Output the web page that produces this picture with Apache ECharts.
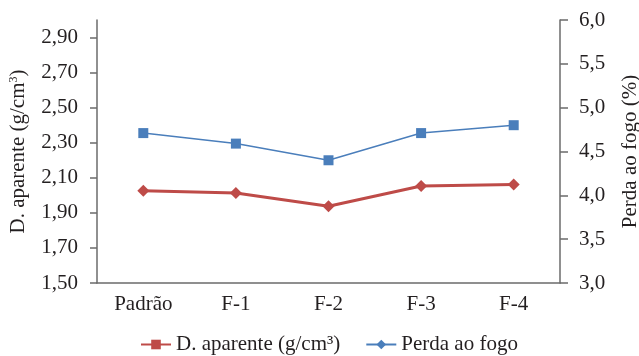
<!DOCTYPE html>
<html>
<head>
<meta charset="utf-8">
<script src="https://cdn.jsdelivr.net/npm/echarts@6/dist/echarts.min.js"></script>
<style>
html,body{margin:0;padding:0;background:#fff;}
#chart{width:639px;height:356px;}
</style>
</head>
<body>
<div id="chart"></div>
<script>
var categories = ['Padrão', 'F-1', 'F-2', 'F-3', 'F-4'];
var densidade = [2.026, 2.013, 1.938, 2.053, 2.062];
var perdaFogo = [4.71, 4.59, 4.40, 4.71, 4.80];
var leftTicks = [1.5, 1.7, 1.9, 2.1, 2.3, 2.5, 2.7, 2.9];
var rightTicks = [3.0, 3.5, 4.0, 4.5, 5.0, 5.5, 6.0];
var nameLeft = 'D. aparente (g/cm³)';
var nameRight = 'Perda ao fogo';

var FONT = '"Liberation Serif", "DejaVu Serif", serif';
var TXT = '#231f20';
var AX = '#6b6b6b';
var RED = '#be4b48';
var BLUE = '#4a7ebb';
var FS = 21;

var chart = echarts.init(document.getElementById('chart'));
chart.setOption({
  animation: false,
  backgroundColor: '#fff',
  textStyle: { fontFamily: FONT, color: TXT },
  grid: { left: 97, right: 79, top: 20, bottom: 73, containLabel: false, outerBoundsMode: 'none' },
  legend: {
    left: 135, top: 329,
    itemWidth: 30, itemHeight: 12, itemGap: 25,
    textStyle: { fontFamily: FONT, fontSize: FS, color: TXT },
    data: [nameLeft, nameRight]
  },
  xAxis: {
    type: 'category',
    data: categories,
    axisLine: { lineStyle: { color: AX, width: 1.5 } },
    axisTick: { show: false },
    axisLabel: { fontFamily: FONT, fontSize: FS, color: TXT, margin: 11 }
  },
  yAxis: [
    {
      type: 'value', min: 1.5, max: 3.0, position: 'left',
      name: 'D. aparente (g/cm{s|3})',
      nameLocation: 'middle', nameGap: 68, nameRotate: 90,
      nameTextStyle: { fontFamily: FONT, fontSize: FS, color: TXT,
        rich: { s: { fontFamily: FONT, fontSize: 12, color: TXT, verticalAlign: 'top', padding: [0, 0, 8, 0] } } },
      axisLine: { show: true, lineStyle: { color: AX, width: 1.5 } },
      axisTick: { show: true, length: 7, customValues: leftTicks, lineStyle: { color: AX, width: 1.5 } },
      axisLabel: { customValues: leftTicks, fontFamily: FONT, fontSize: FS, color: TXT, margin: 19,
        formatter: function (v) { return v.toFixed(2).replace('.', ','); } },
      splitLine: { show: false }
    },
    {
      type: 'value', min: 3.0, max: 6.0, position: 'right',
      name: 'Perda ao fogo (%)',
      nameLocation: 'middle', nameGap: 60, nameRotate: 90,
      nameTextStyle: { fontFamily: FONT, fontSize: FS, color: TXT },
      axisLine: { show: true, lineStyle: { color: AX, width: 1.5 } },
      axisTick: { show: true, length: 8, customValues: rightTicks, lineStyle: { color: AX, width: 1.5 } },
      axisLabel: { customValues: rightTicks, fontFamily: FONT, fontSize: FS, color: TXT, margin: 19,
        formatter: function (v) { return v.toFixed(1).replace('.', ','); } },
      splitLine: { show: false }
    }
  ],
  series: [
    {
      name: nameLeft, type: 'line', yAxisIndex: 0,
      symbol: 'rect', symbolSize: 9,
      data: densidade.map(function (v) { return { value: v, symbol: 'diamond', symbolSize: 12 }; }),
      itemStyle: { color: RED },
      lineStyle: { color: RED, width: 3 }
    },
    {
      name: nameRight, type: 'line', yAxisIndex: 1,
      symbol: 'diamond', symbolSize: 10,
      data: perdaFogo.map(function (v) { return { value: v, symbol: 'rect', symbolSize: 10 }; }),
      itemStyle: { color: BLUE },
      lineStyle: { color: BLUE, width: 1.5 }
    }
  ]
});
</script>
</body>
</html>
